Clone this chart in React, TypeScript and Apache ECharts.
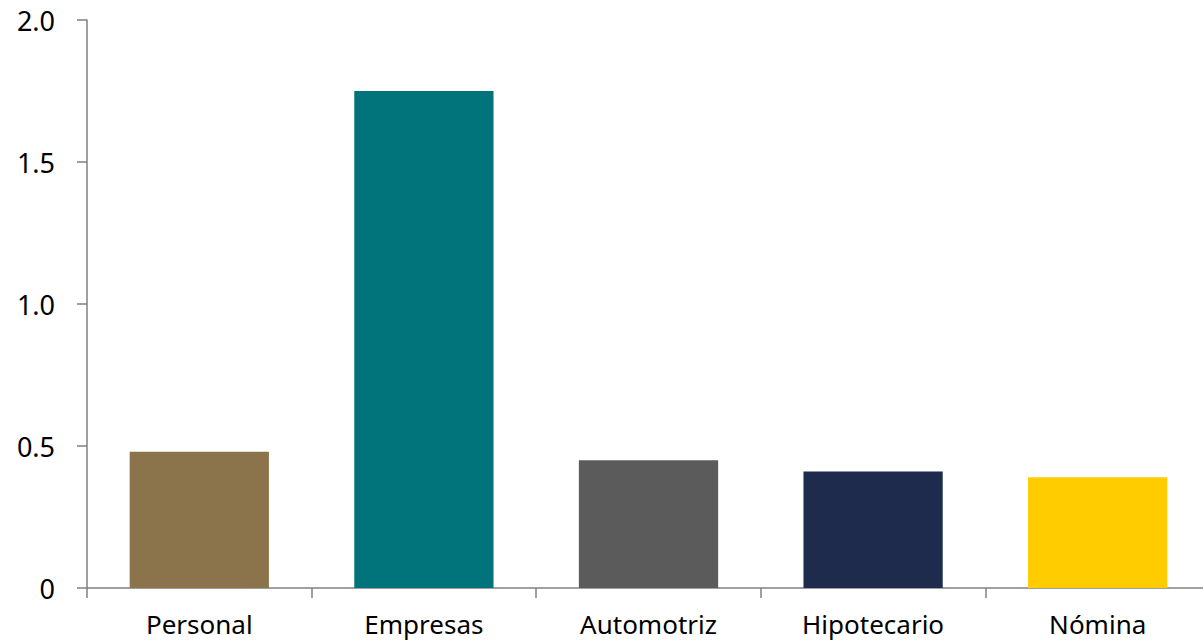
import React, { useEffect, useRef } from "react";
import * as echarts from "echarts";

const categories = ["Personal", "Empresas", "Automotriz", "Hipotecario", "Nómina"];
const values = [0.48, 1.75, 0.45, 0.41, 0.39];
const barColors = ["#8B734B", "#00747A", "#5B5B5B", "#1E2B4D", "#FFCC00"];
const yTickLabels: Record<string, string> = { "0": "0", "0.5": "0.5", "1": "1.0", "1.5": "1.5", "2": "2.0" };

export default function App() {
  const ref = useRef<HTMLDivElement>(null);
  useEffect(() => {
    if (!ref.current) return;
    const chart = echarts.init(ref.current, null, { renderer: "svg" });
    const font = "'Noto Sans', 'Open Sans', sans-serif";
    chart.setOption({
      animation: false,
      backgroundColor: "#ffffff",
      grid: { left: 87, top: 20, width: 1123, height: 568, containLabel: false },
      xAxis: {
        type: "category",
        data: categories,
        axisLine: { show: true, lineStyle: { color: "#808080", width: 1.5 } },
        axisTick: { show: true, length: 10, inside: false, lineStyle: { color: "#808080", width: 1.5 } },
        axisLabel: { color: "#000", fontSize: 26, fontFamily: font, margin: 21, lineHeight: 30 },
      },
      yAxis: {
        type: "value",
        min: 0,
        max: 2,
        interval: 0.5,
        splitLine: { show: false },
        axisLine: { show: true, lineStyle: { color: "#808080", width: 1.5 } },
        axisTick: { show: true, length: 10, lineStyle: { color: "#808080", width: 1.5 } },
        axisLabel: {
          color: "#000",
          fontSize: 27,
          fontFamily: font,
          margin: 32,
          formatter: (v: number) => yTickLabels[String(v)] ?? String(v),
        },
      },
      series: [
        {
          type: "bar",
          data: values.map((v, i) => ({ value: v, itemStyle: { color: barColors[i] } })),
          barCategoryGap: "38%",
        },
      ],
    });
    return () => chart.dispose();
  }, []);
  return (
    <div style={{ position: "fixed", left: 0, top: 0, width: 1203, height: 644, overflow: "hidden", background: "#fff" }}>
      <div ref={ref} style={{ width: 1230, height: 644 }} />
    </div>
  );
}
